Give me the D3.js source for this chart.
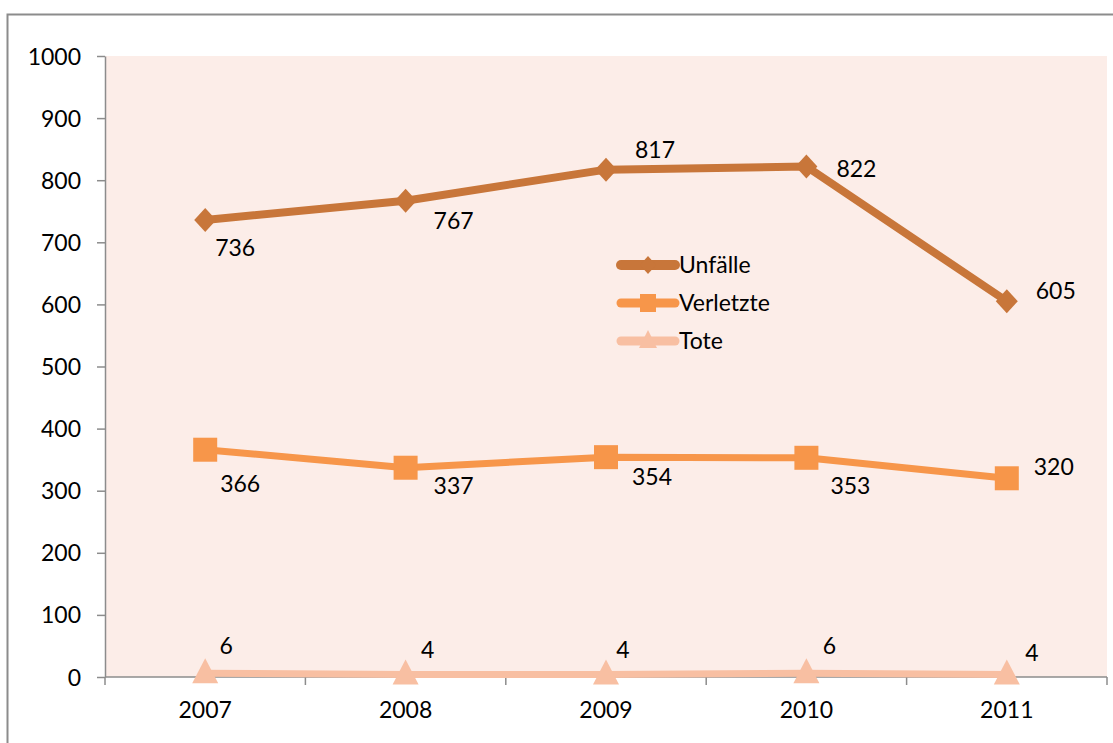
<!DOCTYPE html>
<html><head><meta charset="utf-8">
<script src="https://cdn.jsdelivr.net/npm/d3@7"></script>
<style>body{margin:0;background:#fff}svg{display:block}</style>
</head><body><svg id="c" width="1113" height="743"></svg>
<script>
const years = ["2007","2008","2009","2010","2011"];
const unfaelle = [736,767,817,822,605];
const verletzte = [366,337,354,353,320];
const tote = [6,4,4,6,4];
const yTicks = [0,100,200,300,400,500,600,700,800,900,1000];
const seriesNames = ["Unfälle","Verletzte","Tote"];

const svg = d3.select("#c");
const font = "Lato, 'Open Sans', sans-serif";
const FS = 23;
const M = {l:105, r:1107, t:56, b:677};

svg.append("rect").attr("x",7.5).attr("y",14.5).attr("width",1120).attr("height",760)
  .attr("fill","#fff").attr("stroke","#8c8c8c").attr("stroke-width",2);

const x = d3.scaleBand().domain(years).range([M.l,M.r]);
const y = d3.scaleLinear().domain([0,1000]).range([M.b,M.t]);

svg.append("rect").attr("x",M.l).attr("y",M.t).attr("width",M.r-M.l).attr("height",M.b-M.t).attr("fill","#FCEDE8");

// y axis
const ya = svg.append("g").attr("transform",`translate(${M.l},0)`)
  .call(d3.axisLeft(y).tickValues(yTicks).tickFormat(d3.format("d")).tickSize(8).tickPadding(16).tickSizeOuter(0));
ya.select(".domain").attr("stroke","#8c8c8c").attr("stroke-width",1.5);
ya.selectAll(".tick line").attr("stroke","#8c8c8c").attr("stroke-width",1.5);
ya.selectAll("text").attr("font-family",font).attr("font-size",FS).attr("fill","#000").attr("dy","0.35em");

// x axis
const xa = svg.append("g").attr("transform",`translate(0,${M.b})`)
  .call(d3.axisBottom(x).tickSize(0).tickPadding(0));
xa.select(".domain").remove();
xa.selectAll("text").attr("font-family",font).attr("font-size",FS).attr("fill","#000").attr("y",33).attr("dy","0.35em");
svg.append("line").attr("x1",M.l).attr("x2",M.r).attr("y1",M.b).attr("y2",M.b).attr("stroke","#8c8c8c").attr("stroke-width",1.5);
const bounds = years.map(d=>x(d)).concat([M.r]);
svg.selectAll(".xt").data(bounds).enter().append("line")
  .attr("x1",d=>d).attr("x2",d=>d).attr("y1",M.b).attr("y2",M.b+8).attr("stroke","#8c8c8c").attr("stroke-width",1.5);

const cx = d => x(d)+x.bandwidth()/2;
const series = [
  {name:seriesNames[0], vals:unfaelle, color:"#C8763A", w:8, marker:"diamond",
   lab:[[30,28],[48,20],[49,-20],[50,2],[49,-10]]},
  {name:seriesNames[1], vals:verletzte, color:"#F7964A", w:7, marker:"square",
   lab:[[35,34],[48,18],[46,20],[44,28],[47,-11]]},
  {name:seriesNames[2], vals:tote, color:"#F8BFA2", w:7, marker:"triangle",
   lab:[[21,-27],[22,-25],[17,-25],[23,-27],[25,-22]]}
];

function marker(g, type, color){
  if(type==="diamond") g.append("path").attr("d","M0,-12L11,0L0,12L-11,0Z").attr("fill",color);
  else if(type==="square") g.append("rect").attr("x",-12).attr("y",-12).attr("width",24).attr("height",24).attr("fill",color);
  else g.append("path").attr("d","M0,-15L13,10L-13,10Z").attr("fill",color);
}

const line = d3.line().x((d,i)=>cx(years[i])).y(d=>y(d));
series.forEach(s=>{
  svg.append("path").datum(s.vals).attr("d",line).attr("fill","none")
    .attr("stroke",s.color).attr("stroke-width",s.w).attr("stroke-linejoin","round").attr("stroke-linecap","round");
  s.vals.forEach((v,i)=>{
    const g = svg.append("g").attr("transform",`translate(${cx(years[i])},${y(v)})`);
    marker(g,s.marker,s.color);
  });
  s.vals.forEach((v,i)=>{
    svg.append("text").attr("x",cx(years[i])+s.lab[i][0]).attr("y",y(v)+s.lab[i][1]).attr("dy","0.35em")
      .attr("text-anchor","middle").attr("font-family",font).attr("font-size",FS).attr("fill","#000").text(v);
  });
});

// legend
series.forEach((s,i)=>{
  const ly = 265 + i*38;
  svg.append("line").attr("x1",621).attr("x2",675).attr("y1",ly).attr("y2",ly)
    .attr("stroke",s.color).attr("stroke-width",s.w+2).attr("stroke-linecap","round");
  const g = svg.append("g").attr("transform",`translate(648,${ly})`);
  if(s.marker==="diamond") g.append("path").attr("d","M0,-9L8,0L0,9L-8,0Z").attr("fill",s.color);
  else if(s.marker==="square") g.append("rect").attr("x",-8).attr("y",-9).attr("width",16).attr("height",18).attr("fill",s.color);
  else g.append("path").attr("d","M0,-11L9,7L-9,7Z").attr("fill",s.color);
  svg.append("text").attr("x",679).attr("y",ly).attr("dy","0.35em").attr("font-family",font).attr("font-size",FS).attr("fill","#000").text(s.name);
});
</script></body></html>
